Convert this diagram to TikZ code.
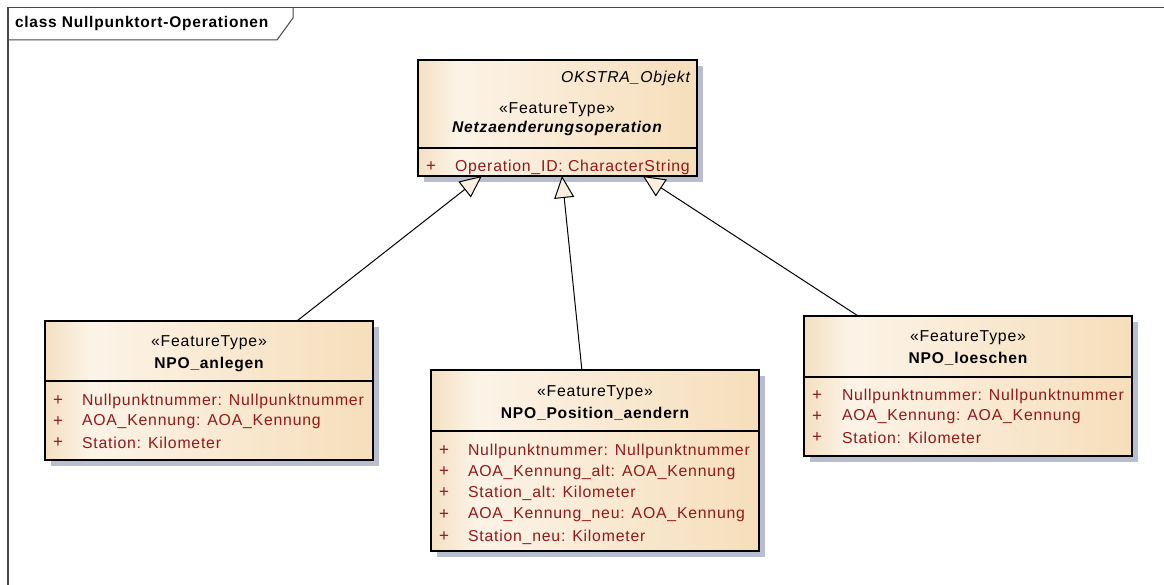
\documentclass[tikz,border=0pt]{standalone}
\usepackage{fontspec}
\setmainfont{Liberation Sans}[LetterSpace=5]
\usetikzlibrary{arrows.meta,calc}
\definecolor{shadowc}{RGB}{184,189,207}
\definecolor{boxa}{RGB}{244,224,194}
\definecolor{boxb}{RGB}{252,243,231}
\definecolor{boxc}{RGB}{246,222,186}
\definecolor{attrred}{RGB}{145,25,25}
\definecolor{tric}{RGB}{251,240,224}
\definecolor{framec}{RGB}{70,70,70}
\pgfdeclarehorizontalshading{umlfill}{100bp}{color(0bp)=(boxa); color(25bp)=(boxa); color(32bp)=(boxb); color(75bp)=(boxc); color(100bp)=(boxc)}
\pgfdeclarelayer{bg}
\pgfsetlayers{bg,main}
\begin{document}
\begin{tikzpicture}[x=1pt,y=-1pt,
  every node/.style={font=\fontsize{15.8}{19}\selectfont, inner sep=0pt, outer sep=0pt},
  umlbox/.style={draw=black, line width=1.3pt, shading=umlfill, anchor=north west},
  divider/.style={draw=black, line width=1.1pt},
  stereo/.style={anchor=center},
  cname/.style={anchor=center, font=\fontsize{15.6}{19}\selectfont\bfseries},
  plus/.style={anchor=center, text=attrred, font=\fontsize{17}{19}\selectfont},
  attr/.style={anchor=west, text=attrred},
  gen/.style={line width=1pt, -{Triangle[length=22pt, width=20pt, fill=tric]}}
]
\useasboundingbox (0,0) rectangle (1164,585);

% frame
\draw[framec, line width=1.4pt] (1164,7.5) -- (8,7.5) -- (8,585);
\draw[framec, line width=1pt] (8,40) -- (277,40) -- (293,18) -- (293,7.5);
\node[anchor=west, font=\fontsize{15.5}{18}\selectfont\bfseries] (title) at (15,23) {class Nullpunktort-Operationen};

% boxes
\node[umlbox, minimum width=279pt, minimum height=116pt] (op) at (418,60) {};
\node[umlbox, minimum width=328pt, minimum height=139pt] (anl) at (45,321) {};
\node[umlbox, minimum width=328pt, minimum height=181pt] (pos) at (431,370) {};
\node[umlbox, minimum width=328pt, minimum height=140pt] (loe) at (804,316) {};

\begin{pgfonlayer}{bg}
\fill[white] (0,0) rectangle (1164,585);
\foreach \b in {op,anl,pos,loe}{
  \fill[shadowc] ($(\b.north west)+(6,6)$) rectangle ($(\b.south east)+(6,6)$);
}
\end{pgfonlayer}

\draw[divider] ($(op.north west)+(0,88)$) -- ($(op.north east)+(0,88)$);
\draw[divider] ($(anl.north west)+(0,60)$) -- ($(anl.north east)+(0,60)$);
\draw[divider] ($(pos.north west)+(0,61)$) -- ($(pos.north east)+(0,61)$);
\draw[divider] ($(loe.north west)+(0,61)$) -- ($(loe.north east)+(0,61)$);

% Netzaenderungsoperation
\node[anchor=east, font=\fontsize{15.8}{19}\selectfont\itshape] (opsup) at (690,78) {OKSTRA\_Objekt};
\node[stereo] (opst) at (557,110) {«FeatureType»};
\node[cname, font=\fontsize{15.6}{19}\selectfont\bfseries\itshape] (opname) at (557,128) {Netzaenderungsoperation};
\node[plus] (opp1) at (431,167) {+};
\node[attr] (opa1) at (455,167) {Operation\_ID: CharacterString};

% NPO_anlegen
\node[stereo] (anlst) at (209,343) {«FeatureType»};
\node[cname] (anlname) at (209,364) {NPO\_anlegen};
\node[plus] (anlp1) at (58,401) {+};
\node[attr] (anla1) at (82,401) {Nullpunktnummer: Nullpunktnummer};
\node[plus] (anlp2) at (58,422) {+};
\node[attr] (anla2) at (82,422) {AOA\_Kennung: AOA\_Kennung};
\node[plus] (anlp3) at (58,443) {+};
\node[attr] (anla3) at (82,443) {Station: Kilometer};

% NPO_Position_aendern
\node[stereo] (posst) at (595,393) {«FeatureType»};
\node[cname] (posname) at (595,414) {NPO\_Position\_aendern};
\node[plus] (posp1) at (444,451) {+};
\node[attr] (posa1) at (468,451) {Nullpunktnummer: Nullpunktnummer};
\node[plus] (posp2) at (444,472) {+};
\node[attr] (posa2) at (468,472) {AOA\_Kennung\_alt: AOA\_Kennung};
\node[plus] (posp3) at (444,493) {+};
\node[attr] (posa3) at (468,493) {Station\_alt: Kilometer};
\node[plus] (posp4) at (444,515) {+};
\node[attr] (posa4) at (468,515) {AOA\_Kennung\_neu: AOA\_Kennung};
\node[plus] (posp5) at (444,537) {+};
\node[attr] (posa5) at (468,537) {Station\_neu: Kilometer};

% NPO_loeschen
\node[stereo] (loest) at (968,338) {«FeatureType»};
\node[cname] (loename) at (968,359) {NPO\_loeschen};
\node[plus] (loep1) at (817,396) {+};
\node[attr] (loea1) at (842,396) {Nullpunktnummer: Nullpunktnummer};
\node[plus] (loep2) at (817,417) {+};
\node[attr] (loea2) at (842,417) {AOA\_Kennung: AOA\_Kennung};
\node[plus] (loep3) at (817,438) {+};
\node[attr] (loea3) at (842,438) {Station: Kilometer};

% generalizations
\draw[gen] ($(anl.north west)!0.768!(anl.north east)$) -- ($(op.south west)!0.229!(op.south east)$);
\draw[gen] ($(pos.north west)!0.460!(pos.north east)$) -- ($(op.south west)!0.516!(op.south east)$);
\draw[gen] ($(loe.north west)!0.165!(loe.north east)$) -- ($(op.south west)!0.806!(op.south east)$);
\end{tikzpicture}
\end{document}
